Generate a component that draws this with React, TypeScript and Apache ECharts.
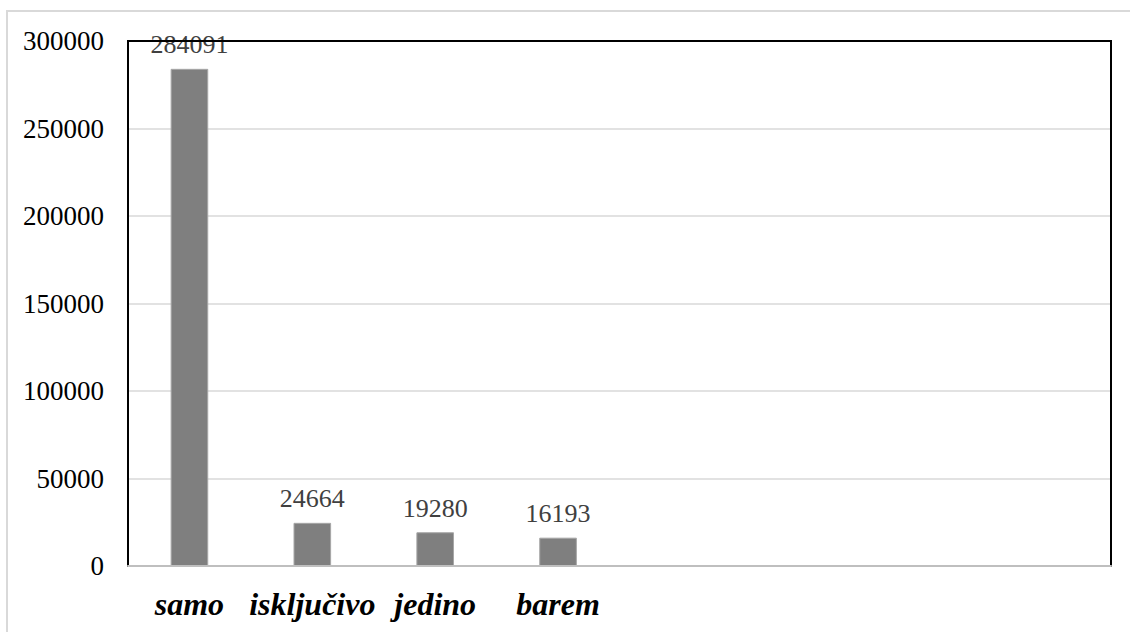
import React, { useEffect, useRef } from "react";
import * as echarts from "echarts";

const categories = ["samo", "isključivo", "jedino", "barem", "", "", "", ""];
const values: (number | null)[] = [284091, 24664, 19280, 16193, null, null, null, null];
const yMin = 0;
const yMax = 300000;
const yInterval = 50000;

export default function App() {
  const ref = useRef<HTMLDivElement>(null);
  useEffect(() => {
    document.body.style.margin = "0";
    const chart = echarts.init(ref.current!, undefined, { renderer: "svg" });
    const serif = "Liberation Serif, Times New Roman, serif";
    chart.setOption({
      animation: false,
      backgroundColor: "#ffffff",
      textStyle: { fontFamily: serif },
      graphic: [
        {
          type: "rect",
          shape: { x: 7, y: 11, width: 1140, height: 640 },
          style: { fill: "none", stroke: "#d9d9d9", lineWidth: 2 },
          z: -1,
        },
      ],
      grid: {
        left: 128,
        top: 41,
        right: 19,
        bottom: 66,
        show: true,
        borderColor: "#000000",
        borderWidth: 2,
        backgroundColor: "transparent",
        z: 5,
      },
      xAxis: {
        type: "category",
        data: categories,
        z: 6,
        axisLine: { show: true, lineStyle: { color: "#bfbfbf", width: 2 } },
        axisTick: { show: false },
        axisLabel: {
          interval: 0,
          color: "#000000",
          fontFamily: serif,
          fontStyle: "italic",
          fontWeight: "bold",
          fontSize: 32,
          margin: 22,
        },
        splitLine: { show: false },
      },
      yAxis: {
        type: "value",
        min: yMin,
        max: yMax,
        interval: yInterval,
        axisLine: { show: true, lineStyle: { color: "#000000", width: 2 } },
        axisTick: { show: false },
        axisLabel: {
          color: "#000000",
          fontFamily: serif,
          fontSize: 27,
          margin: 24,
          formatter: (v: number) => String(v),
        },
        splitLine: {
          show: true,
          showMinLine: false,
          showMaxLine: false,
          lineStyle: { color: "#d9d9d9", width: 1.5 },
        },
      },
      series: [
        {
          type: "bar",
          data: values,
          barWidth: "30.6%",
          itemStyle: { color: "#7f7f7f", borderColor: "#a6a6a6", borderWidth: 1 },
          label: {
            show: true,
            position: "top",
            distance: 11,
            color: "#404040",
            fontFamily: serif,
            fontSize: 26,
          },
        },
      ],
    });
    return () => chart.dispose();
  }, []);
  return <div ref={ref} style={{ width: 1130, height: 632 }} />;
}
